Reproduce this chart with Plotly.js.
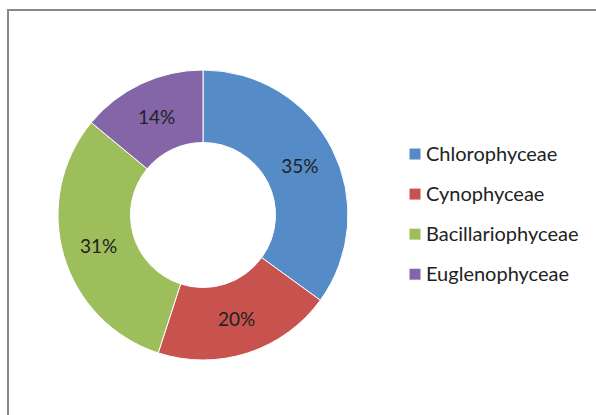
<!DOCTYPE html>
<html>
<head>
<meta charset="utf-8">
<script src="https://cdn.plot.ly/plotly-3.0.1.min.js"></script>
<style>
  html, body { margin: 0; padding: 0; background: #ffffff; }
  #chart { width: 596px; height: 415px; }
  #chart .legendtext { transform: translateX(-9px); }
</style>
</head>
<body>
<div id="chart"></div>
<script>
// ---- data ----
var categories = ["Chlorophyceae", "Cynophyceae", "Bacillariophyceae", "Euglenophyceae"];
var shares = [35, 20, 31, 14];
var sliceColors = ["#558BC7", "#C8524E", "#9DBE5A", "#8466A8"];

// legend labels rendered at normal size while the legend row height is kept large
var legendLabels = categories.map(function (c) {
  return '<span style="font-size:20px;baseline-shift:4px">' + c + '</span>';
});

var trace = {
  type: 'pie',
  labels: legendLabels,
  values: shares,
  hole: 0.5,
  sort: false,
  direction: 'clockwise',
  rotation: 0,
  textinfo: 'percent',
  textposition: 'inside',
  insidetextorientation: 'horizontal',
  textfont: { family: 'Lato, Arial, sans-serif', size: 19, color: '#222222' },
  marker: { colors: sliceColors, line: { color: '#ffffff', width: 1 } },
  domain: { x: [58 / 596, 348 / 596], y: [55 / 415, 345 / 415] },
  hoverinfo: 'skip'
};

var layout = {
  width: 596,
  height: 415,
  margin: { l: 0, r: 0, t: 0, b: 0 },
  paper_bgcolor: '#ffffff',
  font: { family: 'Lato, Arial, sans-serif', color: '#222222' },
  showlegend: true,
  legend: {
    x: 395 / 596,
    y: 0.5 - 7 / 415,
    xanchor: 'left',
    yanchor: 'middle',
    font: { size: 28.5, family: 'Lato, Arial, sans-serif', color: '#222222' },
    bgcolor: 'rgba(0,0,0,0)',
    itemclick: false
  },
  shapes: [{
    type: 'rect', xref: 'paper', yref: 'paper',
    x0: 8 / 596, x1: 1.05, y0: -0.05, y1: 1 - 10 / 415,
    line: { color: '#898989', width: 2 },
    fillcolor: 'rgba(0,0,0,0)'
  }]
};

Plotly.newPlot('chart', [trace], layout, { staticPlot: true, displayModeBar: false });
</script>
</body>
</html>
